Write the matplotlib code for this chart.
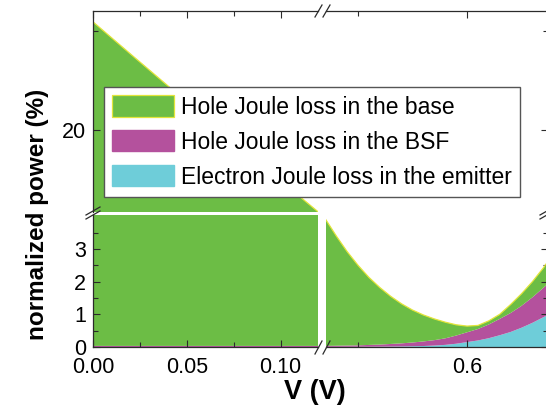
#!/usr/bin/env python3
"""Stacked Joule-loss breakdown versus voltage, drawn on a broken x/y axis."""

import matplotlib

matplotlib.use("Agg")
import matplotlib.pyplot as plt
from matplotlib.lines import Line2D
from matplotlib.patches import Patch

plt.rcParams["font.family"] = ["Liberation Sans", "DejaVu Sans"]

# Low-voltage segment (left panels)
V_LOW = [0.00, 0.02, 0.04, 0.06, 0.08, 0.10, 0.12, 0.13]
BASE_LOW = [25.42, 23.80, 22.19, 20.59, 19.00, 17.42, 15.85, 15.07]
BSF_LOW = [0.03, 0.03, 0.03, 0.03, 0.03, 0.03, 0.03, 0.03]
EMITTER_LOW = [0.003, 0.003, 0.003, 0.003, 0.003, 0.003, 0.003, 0.003]

# High-voltage segment (right panels)
V_HIGH = [0.46, 0.47, 0.48, 0.49, 0.50, 0.51, 0.52, 0.53, 0.54, 0.55, 0.56,
          0.57, 0.58, 0.59, 0.60, 0.61, 0.62, 0.63, 0.64, 0.65, 0.66, 0.67, 0.68]
BASE_HIGH = [4.45, 3.887, 3.361, 2.875, 2.449, 2.067, 1.745, 1.457, 1.208, 0.992, 0.81,
             0.65, 0.495, 0.33, 0.19, 0.11, 0.11, 0.14, 0.26, 0.37, 0.48, 0.61, 0.79]
BSF_HIGH = [0.028, 0.03, 0.035, 0.04, 0.045, 0.055, 0.065, 0.08, 0.095, 0.115, 0.14,
            0.165, 0.20, 0.25, 0.30, 0.35, 0.42, 0.50, 0.58, 0.67, 0.78, 0.90, 1.02]
EMITTER_HIGH = [0.003, 0.003, 0.004, 0.005, 0.006, 0.008, 0.01, 0.013, 0.017, 0.023, 0.03,
                0.045, 0.065, 0.10, 0.15, 0.20, 0.27, 0.36, 0.46, 0.59, 0.74, 0.91, 1.09]

LABELS = [
    "Hole Joule loss in the base",
    "Hole Joule loss in the BSF",
    "Electron Joule loss in the emitter",
]

X_TICKS_LOW = [0.00, 0.05, 0.10]
X_TICKLABELS_LOW = ["0.00", "0.05", "0.10"]
X_MINOR_LOW = [0.025, 0.075]
X_TICKS_HIGH = [0.6]
X_TICKLABELS_HIGH = ["0.6"]
X_MINOR_HIGH = [0.5]
Y_TICKS_UPPER = [20]
Y_MINOR_UPPER = [25]
Y_TICKS_LOWER = [0, 1, 2, 3]
Y_MINOR_LOWER = [0.5, 1.5, 2.5, 3.5]

GREEN = "#6cbd45"
PURPLE = "#b4519d"
CYAN = "#6ecdd9"
EDGE_YELLOW = "#e3e53a"
SPINE = "#2b2b2b"

W, H = 546, 417


def px_rect(x0, y0, x1, y1):
    # pixel box with top-left origin -> figure fraction [l, b, w, h]
    return [x0 / W, 1 - y1 / H, (x1 - x0) / W, (y1 - y0) / H]


def fig_line(fig, x0, y0, x1, y1):
    fig.add_artist(
        Line2D([x0 / W, x1 / W], [1 - y0 / H, 1 - y1 / H],
               color=SPINE, linewidth=0.9, transform=fig.transFigure)
    )


def draw_panel(ax, v, emitter, bsf, base):
    ax.stackplot(v, emitter, bsf, base, colors=[CYAN, PURPLE, GREEN], linewidth=0)
    total = [e + b + g for e, b, g in zip(emitter, bsf, base)]
    ax.plot(v, total, color=EDGE_YELLOW, linewidth=0.9)


def style_panel(ax, upper, left):
    for side in ("top", "bottom", "left", "right"):
        ax.spines[side].set_color(SPINE)
        ax.spines[side].set_linewidth(0.9)
    ax.spines["bottom"].set_visible(not upper)
    ax.spines["top"].set_visible(upper)
    ax.spines["right"].set_visible(not left)
    ax.spines["left"].set_visible(left)
    ax.tick_params(which="both", direction="in", color=SPINE, width=0.8,
                   top=upper, bottom=not upper, left=left, right=not left,
                   labeltop=False, labelbottom=not upper,
                   labelleft=left, labelright=False, labelsize=15.5)
    ax.tick_params(which="major", length=5)
    ax.tick_params(which="minor", length=3.3)
    ax.tick_params(axis="x", pad=7.5)
    ax.tick_params(axis="y", pad=5)
    ax.set_facecolor("white")


def main():
    fig = plt.figure(figsize=(W / 100, H / 100), dpi=100)

    ax_ul = fig.add_axes(px_rect(93, 11, 318, 212))
    ax_ur = fig.add_axes(px_rect(326, 11, 548, 212))
    ax_ll = fig.add_axes(px_rect(93, 215, 318, 347))
    ax_lr = fig.add_axes(px_rect(326, 215, 548, 347))

    for ax in (ax_ul, ax_ll):
        draw_panel(ax, V_LOW, EMITTER_LOW, BSF_LOW, BASE_LOW)
        ax.set_xlim(0.0, 0.12)
        ax.set_xticks(X_TICKS_LOW)
        ax.set_xticklabels(X_TICKLABELS_LOW)
        ax.set_xticks(X_MINOR_LOW, minor=True)
    for ax in (ax_ur, ax_lr):
        draw_panel(ax, V_HIGH, EMITTER_HIGH, BSF_HIGH, BASE_HIGH)
        ax.set_xlim(0.4706, 0.6743)
        ax.set_xticks(X_TICKS_HIGH)
        ax.set_xticklabels(X_TICKLABELS_HIGH)
        ax.set_xticks(X_MINOR_HIGH, minor=True)
    for ax in (ax_ul, ax_ur):
        ax.set_ylim(15.87, 26.0)
        ax.set_yticks(Y_TICKS_UPPER)
        ax.set_yticks(Y_MINOR_UPPER, minor=True)
    for ax in (ax_ll, ax_lr):
        ax.set_ylim(0.0, 4.04)
        ax.set_yticks(Y_TICKS_LOWER)
        ax.set_yticks(Y_MINOR_LOWER, minor=True)

    style_panel(ax_ul, upper=True, left=True)
    style_panel(ax_ur, upper=True, left=False)
    style_panel(ax_ll, upper=False, left=True)
    style_panel(ax_lr, upper=False, left=False)

    # break marks on the x axis (top and bottom) and on the y axis (left and right)
    for dx in (0, 8):
        fig_line(fig, 315 + dx, 354, 322 + dx, 341)
        fig_line(fig, 315 + dx, 17, 322 + dx, 5)
    for dy in (0, 4):
        fig_line(fig, 86, 215 + dy, 100, 207 + dy)
        fig_line(fig, 540, 215 + dy, 554, 207 + dy)

    fig.text(38 / W, 1 - 214 / H, "normalized power (%)", rotation=90,
             ha="center", va="center", fontsize=17.5, fontweight="bold")
    fig.text(315 / W, 1 - 392 / H, "V (V)", ha="center", va="center",
             fontsize=19.5, fontweight="bold")

    handles = [
        Patch(facecolor=GREEN, edgecolor=EDGE_YELLOW, linewidth=0.9),
        Patch(facecolor=PURPLE, edgecolor=PURPLE),
        Patch(facecolor=CYAN, edgecolor=CYAN),
    ]
    leg = fig.legend(handles, LABELS, loc="upper left",
                     bbox_to_anchor=(104 / W, 1 - 87 / H), borderaxespad=0,
                     fontsize=16.5, frameon=True, fancybox=False, framealpha=1,
                     edgecolor="#555555", handlelength=2.7, handleheight=1.05,
                     handletextpad=0.3, borderpad=0.36, labelspacing=0.5)
    leg.get_frame().set_linewidth(1.0)

    fig.savefig("out.png", dpi=100)
    plt.close(fig)


if __name__ == "__main__":
    main()
